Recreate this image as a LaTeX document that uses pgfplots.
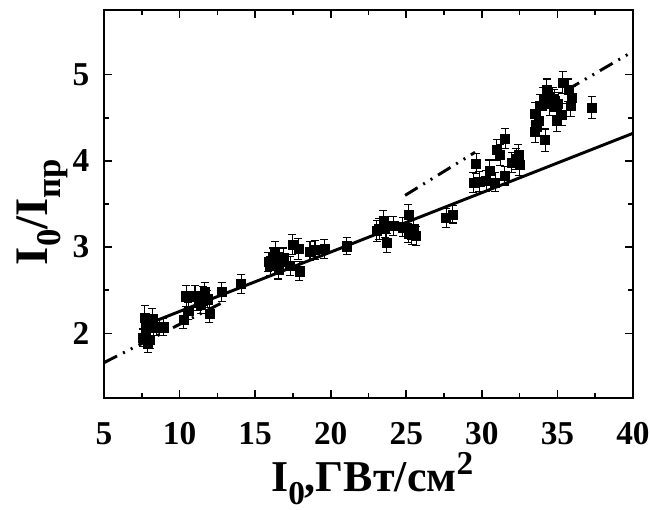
\documentclass[border=0pt]{standalone}
\usepackage{pgfplots}
\pgfplotsset{compat=1.18}
\usepackage{pgfplotstable}
\usepackage{fontspec}
\setmainfont{Liberation Serif}

\pgfplotstableread{
x y e
7.60 1.95 0.10
7.70 2.18 0.14
7.75 2.07 0.10
7.90 1.88 0.10
8.00 2.07 0.10
8.05 1.92 0.10
8.20 2.17 0.12
8.30 2.07 0.10
8.50 2.07 0.10
8.70 2.07 0.10
8.93 2.07 0.10
10.25 2.16 0.10
10.43 2.43 0.12
10.58 2.26 0.10
11.02 2.43 0.12
11.24 2.36 0.10
11.40 2.33 0.10
11.53 2.43 0.11
11.68 2.48 0.11
11.84 2.40 0.10
11.97 2.23 0.10
12.79 2.48 0.11
14.07 2.57 0.11
15.88 2.83 0.11
16.00 2.78 0.11
16.20 2.88 0.11
16.32 2.95 0.12
16.40 2.86 0.11
16.54 2.74 0.11
16.60 2.83 0.11
16.87 2.88 0.11
17.31 2.78 0.11
17.46 3.03 0.12
17.86 2.98 0.12
17.93 2.72 0.11
18.63 2.95 0.11
18.96 2.97 0.11
19.58 2.98 0.11
21.06 3.01 0.10
23.05 3.19 0.12
23.20 3.21 0.12
23.49 3.30 0.12
23.60 3.23 0.12
23.71 3.05 0.11
24.15 3.25 0.11
24.77 3.23 0.11
25.14 3.38 0.11
25.14 3.16 0.11
25.35 3.14 0.11
25.47 3.21 0.11
25.65 3.13 0.11
27.63 3.34 0.11
28.08 3.38 0.10
29.44 3.75 0.12
29.62 3.97 0.12
29.83 3.76 0.12
30.28 3.77 0.12
30.50 3.89 0.12
30.88 3.75 0.11
30.99 4.13 0.12
31.21 4.07 0.12
31.54 4.26 0.12
31.50 3.83 0.11
31.98 3.98 0.12
32.27 4.02 0.12
32.42 4.07 0.12
32.49 3.95 0.12
33.52 4.55 0.13
33.52 4.34 0.13
33.60 4.41 0.13
33.74 4.47 0.13
33.85 4.64 0.13
34.07 4.72 0.13
34.19 4.24 0.13
34.30 4.82 0.13
34.40 4.74 0.13
34.50 4.66 0.13
34.70 4.72 0.13
34.80 4.70 0.13
34.96 4.47 0.13
35.05 4.66 0.13
35.29 4.54 0.13
35.35 4.91 0.13
35.73 4.82 0.13
35.88 4.64 0.13
35.95 4.73 0.13
37.27 4.62 0.13
}\datatable

\begin{document}
\begin{tikzpicture}
\useasboundingbox (-78pt,-84pt) rectangle (409.5pt,298.5pt);
\begin{axis}[
  scale only axis,
  width=396.75pt, height=291pt,
  xmin=5, xmax=40, ymin=1.25, ymax=5.75,
  xtick={5,10,...,40}, ytick={2,3,4,5},
  minor x tick num=1, minor y tick num=1,
  tick align=inside,
  major tick length=6pt, minor tick length=3.5pt,
  axis line style={line width=1.5pt},
  every tick/.style={black, line width=1.2pt},
  tick pos=both,
  /pgf/number format/assume math mode=true,
  tick label style={font=\fontsize{25}{25}\selectfont\bfseries},
  xticklabel style={yshift=-15pt},
  yticklabel style={xshift=-7.5pt},
  xlabel={I\raisebox{-0.28em}{\fontsize{25}{25}\selectfont 0},ГВт/см\raisebox{0.4em}{\fontsize{25}{25}\selectfont 2}},
  ylabel={I\raisebox{-0.28em}{\fontsize{26}{26}\selectfont 0}/I\raisebox{-0.28em}{\fontsize{26}{26}\selectfont пр}},
  xlabel style={font=\fontsize{33}{33}\selectfont\bfseries, at={(axis description cs:0.507,-0.207)}, anchor=center},
  ylabel style={font=\fontsize{35}{35}\selectfont\bfseries, at={(axis description cs:-0.117,0.479)}, anchor=center},
  clip=true,
]
\addplot[black, line width=2.2pt] coordinates {(8.2,2.13) (40,4.32)};
\addplot[black, line width=2.2pt, dash pattern=on 11pt off 5pt on 1.5pt off 5pt on 1.5pt off 5pt] coordinates {(5,1.66) (13.1,2.38)};
\addplot[black, line width=2.2pt, dash pattern=on 11pt off 5pt on 1.5pt off 5pt on 1.5pt off 5pt] coordinates {(24.92,3.60) (29.55,4.10)};
\addplot[black, line width=2.2pt, dash pattern=on 11pt off 5pt on 1.5pt off 5pt on 1.5pt off 5pt] coordinates {(35.6,4.82) (40,5.27)};
\addplot[black, only marks, mark=square*, mark size=3.4pt,
  error bars/.cd, y dir=both, y explicit,
  error bar style={line width=0.8pt, black},
  error mark options={rotate=90, mark size=3pt, line width=0.8pt, black}]
  table[x=x, y=y, y error=e] {\datatable};
\end{axis}
\end{tikzpicture}
\end{document}
